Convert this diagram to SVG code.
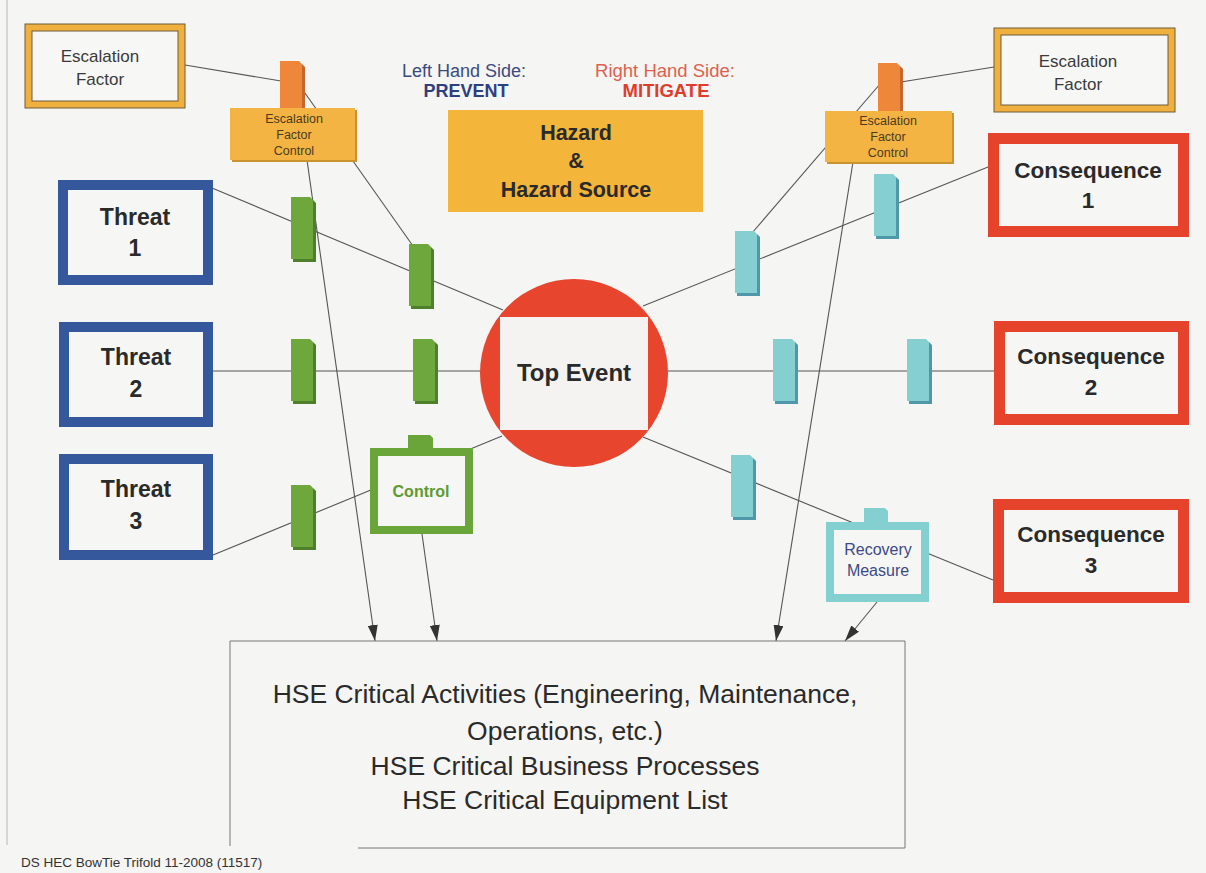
<svg xmlns="http://www.w3.org/2000/svg" xmlns:xlink="http://www.w3.org/1999/xlink" width="1206" height="873" viewBox="0 0 1206 873">
  <style>
    .t { font-family: "Liberation Sans", Arial, sans-serif; fill: #2a2a2a; text-anchor: middle; }
    .b { font-weight: bold; }
    .conn { stroke: #555; stroke-width: 1.1; fill: none; }
    .arrow { stroke: #555; stroke-width: 1.1; fill: none; marker-end: url(#ah); }
    .threat { fill: #f6f6f4; stroke: #34589b; stroke-width: 10; }
    .conseq { fill: #f6f6f4; stroke: #e6432c; stroke-width: 11; }
    .efband { fill: #efb03e; stroke: #6e5c38; stroke-width: 1; }
    .efin { fill: #f7f7f5; stroke: #6e5c38; stroke-width: 1; }
  </style>
  <defs>
    <marker id="ah" markerUnits="userSpaceOnUse" markerWidth="16" markerHeight="10" refX="16" refY="5" orient="auto">
      <path d="M0,0 L16,5 L0,10 Z" fill="#333"/>
    </marker>
    <!-- barrier blocks: darker edge behind a lighter face -->
    <g id="barGreen">
      <path d="M2,3 H22 L25,6 V65 H2 Z" fill="#4e7f2b"/>
      <path d="M0,0 H19 L22,3 V62 H0 Z" fill="#6ea83c"/>
    </g>
    <g id="barTeal">
      <path d="M2,3 H22 L25,6 V65 H2 Z" fill="#4f98aa"/>
      <path d="M0,0 H19 L22,3 V62 H0 Z" fill="#86cfd1"/>
    </g>
    <g id="barOrange">
      <path d="M2,3 H22 L25,6 V52 H2 Z" fill="#c5662c"/>
      <path d="M0,0 H19 L22,3 V50 H0 Z" fill="#ef873a"/>
    </g>
  </defs>

  <!-- paper -->
  <rect x="0" y="0" width="1206" height="873" fill="#f5f5f3"/>
  <line x1="7" y1="0" x2="7" y2="845" stroke="#b8b8b8" stroke-width="1"/>

  <!-- connectors -->
  <g id="connectors">
    <line class="conn" x1="185" y1="65" x2="281" y2="81"/>
    <line class="conn" x1="300" y1="86" x2="413" y2="246"/>
    <line class="arrow" x1="307" y1="160" x2="375" y2="641"/>
    <line class="conn" x1="212" y1="188" x2="503" y2="310"/>
    <line class="conn" x1="212" y1="371" x2="481" y2="371"/>
    <line class="conn" x1="213" y1="555" x2="502" y2="436"/>
    <line class="arrow" x1="422" y1="534" x2="437" y2="641"/>
    <line class="conn" x1="994" y1="67" x2="901" y2="82"/>
    <line class="conn" x1="880" y1="84" x2="752" y2="233"/>
    <line class="arrow" x1="853" y1="162" x2="776" y2="641"/>
    <line class="conn" x1="643" y1="306" x2="988" y2="167"/>
    <line class="conn" x1="667" y1="371" x2="994" y2="371"/>
    <line class="conn" x1="643" y1="437" x2="993" y2="580"/>
    <line class="arrow" x1="877" y1="602" x2="845" y2="641"/>
  </g>

  <!-- header labels -->
  <g id="lhs-label">
    <text class="t" x="464" y="77" font-size="18" style="fill:#3c4b7e">Left Hand Side:</text>
    <text class="t b" x="466" y="97" font-size="18" style="fill:#2e3f80">PREVENT</text>
  </g>
  <g id="rhs-label">
    <text class="t" x="665" y="77" font-size="18.5" style="fill:#e0604f">Right Hand Side:</text>
    <text class="t b" x="666" y="97" font-size="18.5" style="fill:#e03c2c">MITIGATE</text>
  </g>

  <!-- hazard -->
  <g id="hazard">
    <rect x="448" y="110" width="255" height="102" fill="#f3b53a"/>
    <text class="t b" x="576" y="140" font-size="21.5">Hazard</text>
    <text class="t b" x="576" y="168" font-size="21.5">&amp;</text>
    <text class="t b" x="576" y="197" font-size="21.5">Hazard Source</text>
  </g>

  <!-- escalation factors -->
  <g id="escalation-factor-left">
    <rect class="efband" x="25" y="24" width="160" height="84"/>
    <rect class="efin" x="32" y="31" width="146" height="70"/>
    <text class="t" x="100" y="62" font-size="17" style="fill:#3a3a3a">Escalation</text>
    <text class="t" x="100" y="85" font-size="17" style="fill:#3a3a3a">Factor</text>
  </g>
  <g id="escalation-factor-right">
    <rect class="efband" x="994" y="28" width="181" height="84"/>
    <rect class="efin" x="1001" y="35" width="167" height="70"/>
    <text class="t" x="1078" y="67" font-size="17" style="fill:#3a3a3a">Escalation</text>
    <text class="t" x="1078" y="90" font-size="17" style="fill:#3a3a3a">Factor</text>
  </g>

  <!-- escalation factor controls -->
  <g id="efc-left">
    <use xlink:href="#barOrange" x="280" y="61"/>
    <rect x="232" y="110" width="125" height="52" fill="#c99330"/>
    <rect x="230" y="108" width="125" height="52" fill="#f3b443"/>
    <text class="t" x="294" y="123" font-size="12.5" style="fill:#4a3a1e">Escalation</text>
    <text class="t" x="294" y="139" font-size="12.5" style="fill:#4a3a1e">Factor</text>
    <text class="t" x="294" y="155" font-size="12.5" style="fill:#4a3a1e">Control</text>
  </g>
  <g id="efc-right">
    <use xlink:href="#barOrange" x="878" y="63"/>
    <rect x="827" y="113" width="127" height="51" fill="#c99330"/>
    <rect x="825" y="111" width="127" height="51" fill="#f3b443"/>
    <text class="t" x="888" y="125" font-size="12.5" style="fill:#4a3a1e">Escalation</text>
    <text class="t" x="888" y="141" font-size="12.5" style="fill:#4a3a1e">Factor</text>
    <text class="t" x="888" y="157" font-size="12.5" style="fill:#4a3a1e">Control</text>
  </g>

  <!-- threats -->
  <g id="threat-1">
    <rect class="threat" x="63" y="185" width="145" height="95"/>
    <text class="t b" x="135" y="225" font-size="23">Threat</text>
    <text class="t b" x="135" y="256" font-size="23">1</text>
  </g>
  <g id="threat-2">
    <rect class="threat" x="64" y="327" width="144" height="95"/>
    <text class="t b" x="136" y="365" font-size="23">Threat</text>
    <text class="t b" x="136" y="397" font-size="23">2</text>
  </g>
  <g id="threat-3">
    <rect class="threat" x="64" y="459" width="144" height="96"/>
    <text class="t b" x="136" y="497" font-size="23">Threat</text>
    <text class="t b" x="136" y="529" font-size="23">3</text>
  </g>

  <!-- prevention barriers -->
  <g id="barriers-left">
    <use xlink:href="#barGreen" x="291" y="197"/>
    <use xlink:href="#barGreen" x="409" y="244"/>
    <use xlink:href="#barGreen" x="291" y="339"/>
    <use xlink:href="#barGreen" x="413" y="339"/>
    <use xlink:href="#barGreen" x="291" y="485"/>
  </g>

  <g id="control">
    <path d="M408,450 V435 H430 L433,438 V450 Z" fill="#6aa53a"/>
    <rect x="374" y="452" width="95" height="78" fill="#f6f6f4" stroke="#6aa53a" stroke-width="8"/>
    <text class="t b" x="421" y="497" font-size="16" style="fill:#5e9a30">Control</text>
  </g>

  <!-- top event -->
  <g id="top-event">
    <circle cx="574" cy="373" r="94" fill="#e8452e"/>
    <rect x="500" y="317" width="148" height="113" fill="#f4f3f1"/>
    <text class="t b" x="574" y="381" font-size="24">Top Event</text>
  </g>

  <!-- mitigation barriers -->
  <g id="barriers-right">
    <use xlink:href="#barTeal" x="874" y="174"/>
    <use xlink:href="#barTeal" x="735" y="231"/>
    <use xlink:href="#barTeal" x="773" y="339"/>
    <use xlink:href="#barTeal" x="907" y="339"/>
    <use xlink:href="#barTeal" x="731" y="455"/>
  </g>

  <g id="recovery-measure">
    <path d="M864,524 V508 H885 L888,511 V524 Z" fill="#84cfd0"/>
    <rect x="830" y="526" width="95" height="72" fill="#f6f6f4" stroke="#84cfd0" stroke-width="8"/>
    <text class="t" x="878" y="555" font-size="16" style="fill:#3b4a86">Recovery</text>
    <text class="t" x="878" y="576" font-size="16" style="fill:#3b4a86">Measure</text>
  </g>

  <!-- consequences -->
  <g id="consequence-1">
    <rect class="conseq" x="993.5" y="138.5" width="190" height="93"/>
    <text class="t b" x="1088" y="178" font-size="22.5">Consequence</text>
    <text class="t b" x="1088" y="208" font-size="22.5">1</text>
  </g>
  <g id="consequence-2">
    <rect class="conseq" x="999.5" y="326.5" width="184" height="93"/>
    <text class="t b" x="1091" y="364" font-size="22.5">Consequence</text>
    <text class="t b" x="1091" y="395" font-size="22.5">2</text>
  </g>
  <g id="consequence-3">
    <rect class="conseq" x="998.5" y="504.5" width="185" height="93"/>
    <text class="t b" x="1091" y="542" font-size="22.5">Consequence</text>
    <text class="t b" x="1091" y="573" font-size="22.5">3</text>
  </g>

  <!-- critical activities -->
  <g id="hse-critical">
    <path d="M230,846 V641 H905 V848 H358" fill="none" stroke="#777" stroke-width="1"/>
    <text class="t" x="565" y="703" font-size="26.5">HSE Critical Activities (Engineering, Maintenance,</text>
    <text class="t" x="565" y="740" font-size="26.5">Operations, etc.)</text>
    <text class="t" x="565" y="775" font-size="26.5">HSE Critical Business Processes</text>
    <text class="t" x="565" y="809" font-size="26.5">HSE Critical Equipment List</text>
  </g>

  <text x="21" y="867" font-family="Liberation Sans, Arial, sans-serif" font-size="13.5" fill="#333">DS HEC BowTie Trifold 11-2008 (11517)</text>
</svg>
